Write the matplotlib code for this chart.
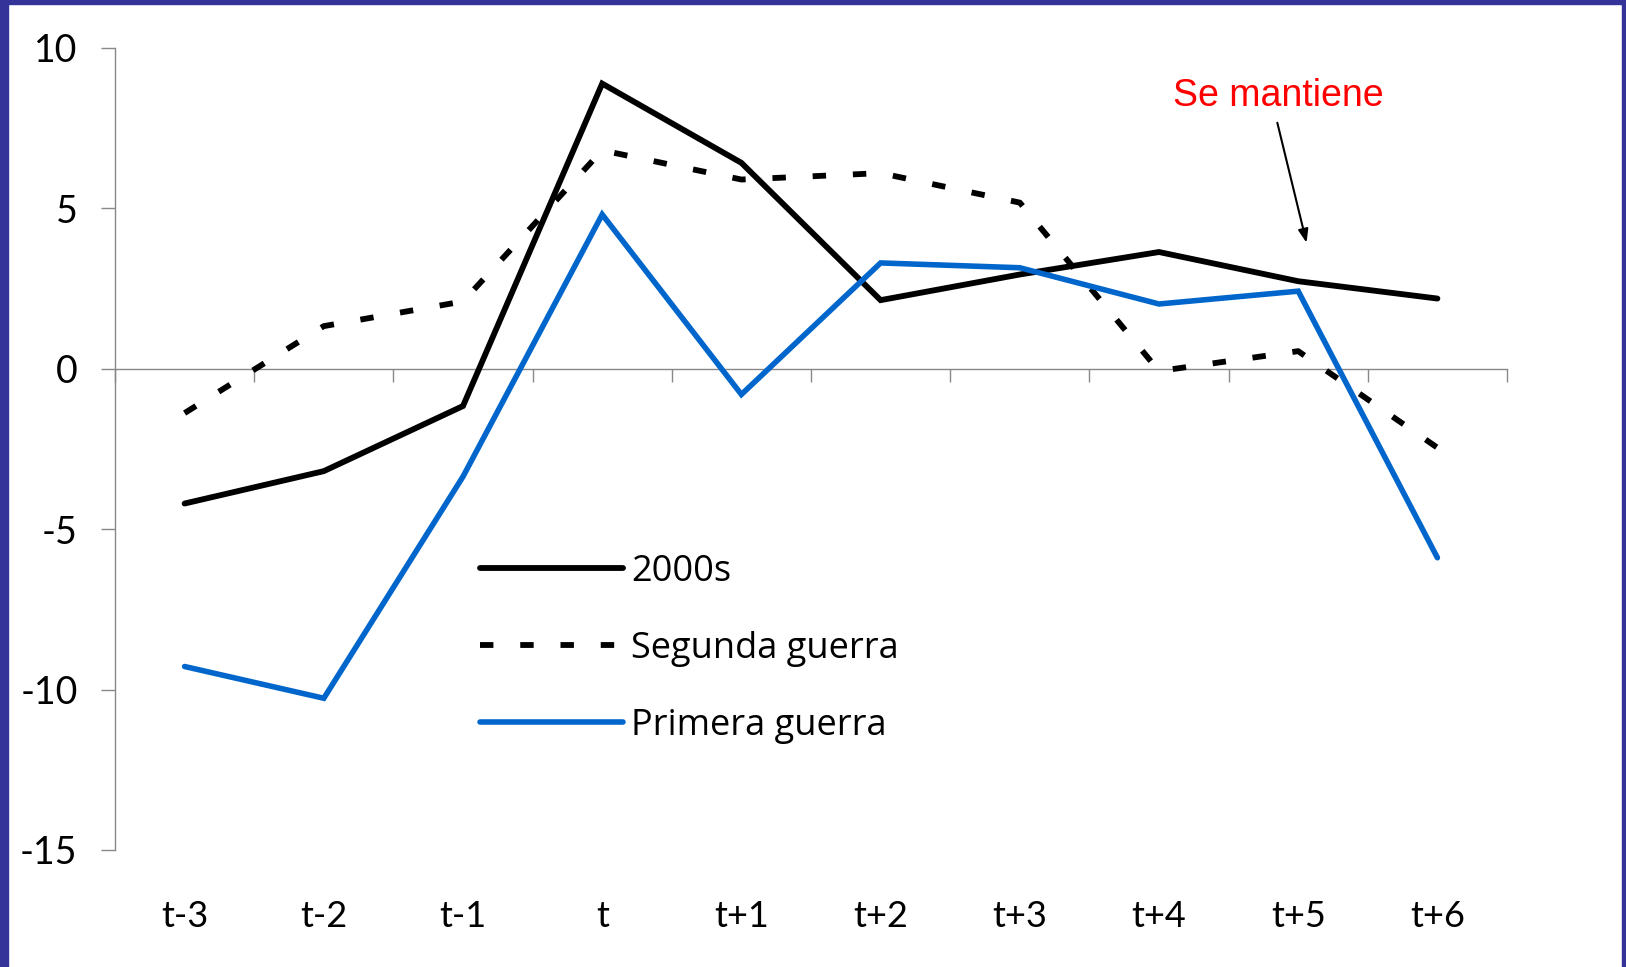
import matplotlib
matplotlib.use("Agg")
import matplotlib.pyplot as plt
from matplotlib.patches import Rectangle

# data
periods = ["t-3", "t-2", "t-1", "t", "t+1", "t+2", "t+3", "t+4", "t+5", "t+6"]
dosmil = [-4.2, -3.19, -1.16, 8.89, 6.42, 2.14, 2.94, 3.64, 2.73, 2.19]
segunda = [-1.38, 1.33, 2.1, 6.81, 5.9, 6.1, 5.18, -0.07, 0.55, -2.46]
primera = [-9.28, -10.27, -3.36, 4.81, -0.8, 3.3, 3.15, 2.02, 2.42, -5.89]
series_names = ["2000s", "Segunda guerra", "Primera guerra"]

plt.rcParams["axes.unicode_minus"] = False

W, H = 1626, 967
fig = plt.figure(figsize=(W / 100, H / 100), dpi=100)
fig.patch.set_facecolor("white")

# purple frame of the slide
frame = "#333399"
fig.add_artist(Rectangle((0, 0), 8 / W, 1, transform=fig.transFigure, color=frame, zorder=10))
fig.add_artist(Rectangle((0, 1 - 4 / H), 1, 4 / H, transform=fig.transFigure, color=frame, zorder=10))
fig.add_artist(Rectangle((1 - 4 / W, 0), 4 / W, 1, transform=fig.transFigure, color=frame, zorder=10))

ax = fig.add_axes([115 / W, 1 - 850 / H, (1507 - 115) / W, (850 - 48) / H])

x = list(range(len(periods)))
ax.plot(x, dosmil, color="black", lw=4.2, solid_capstyle="round", solid_joinstyle="miter",
        label=series_names[0], zorder=3)
ax.plot(x, segunda, color="black", lw=4.2, linestyle=(0, (2.3, 4.6)), dash_capstyle="butt",
        label=series_names[1], zorder=3)
ax.plot(x, primera, color="#0066CC", lw=4.0, solid_capstyle="round", solid_joinstyle="miter",
        label=series_names[2], zorder=3)

ax.set_xlim(-0.5, len(periods) - 0.5)
ax.set_ylim(-15, 10)

axis_grey = "#888888"
for s in ["top", "right"]:
    ax.spines[s].set_visible(False)
ax.spines["left"].set_color(axis_grey)
ax.spines["left"].set_linewidth(1)
ax.spines["bottom"].set_position(("data", 0))
ax.spines["bottom"].set_color(axis_grey)
ax.spines["bottom"].set_linewidth(1)

ax.set_yticks([-15, -10, -5, 0, 5, 10])
ax.tick_params(axis="y", direction="out", length=10, width=1, color=axis_grey, pad=17,
               labelsize=27, labelfontfamily="Lato")

# tick marks between categories on the zero line
ax.set_xticks([i - 0.5 for i in range(len(periods) + 1)])
ax.set_xticklabels([])
ax.tick_params(axis="x", direction="out", length=9, width=1, color=axis_grey)

# category labels at the bottom of the plot
sec = ax.secondary_xaxis(0)
sec.set_xticks(x)
sec.set_xticklabels(periods)
sec.spines["bottom"].set_visible(False)
sec.tick_params(axis="x", length=0, pad=36, labelsize=26, labelfontfamily="Lato")

leg = ax.legend(loc="upper left", bbox_to_anchor=(0.239, 0.41), frameon=False,
                handlelength=3.95, handletextpad=0.22, labelspacing=1.14,
                prop={"family": "Open Sans", "size": 26})

ax.text(7.86, 8.5, "Se mantiene", color="#FF0000", fontsize=27,
        family="Liberation Sans", ha="center", va="center")
ax.annotate("", xy=(8.06, 3.93), xytext=(7.85, 7.67),
            arrowprops=dict(arrowstyle="-|>,head_length=0.8,head_width=0.3",
                            color="black", lw=1.5, shrinkA=0, shrinkB=0))

fig.savefig("out.png", dpi=100, facecolor="white")
